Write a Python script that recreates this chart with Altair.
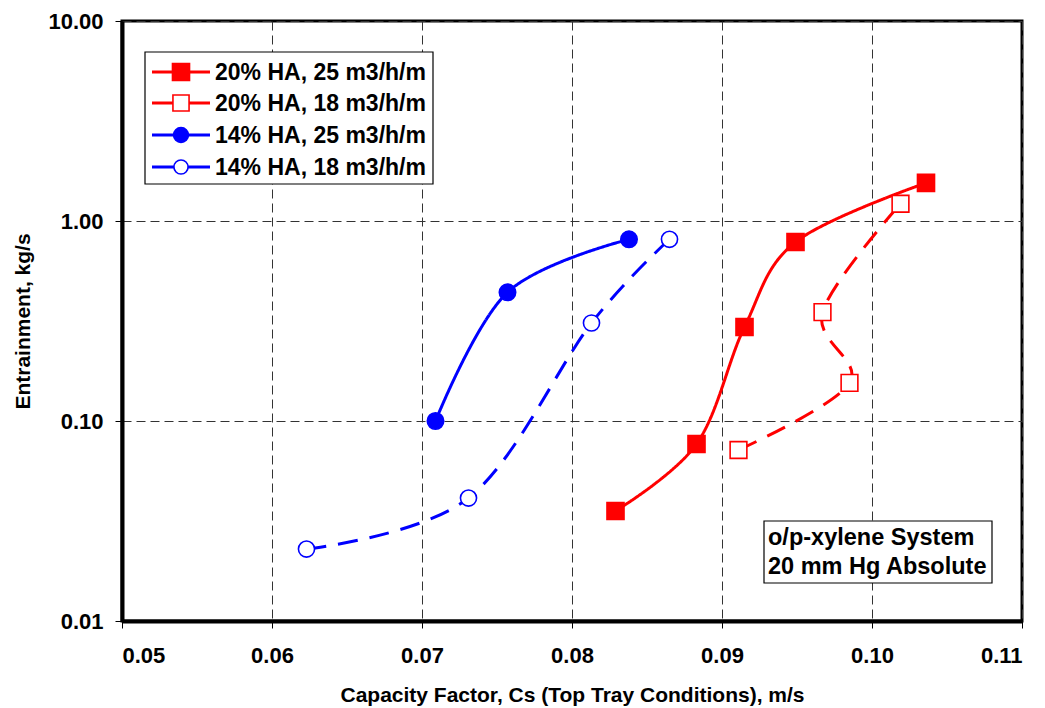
import altair as alt
import pandas as pd

# Series of the entrainment test runs
series_names = [
    "20% HA, 25 m3/h/m",
    "20% HA, 18 m3/h/m",
    "14% HA, 25 m3/h/m",
    "14% HA, 18 m3/h/m",
]

ha20_q25_cs = [0.0829, 0.0883, 0.0915, 0.0949, 0.1036]
ha20_q25_ent = [0.0355, 0.0767, 0.295, 0.785, 1.55]

ha20_q18_cs = [0.0911, 0.0985, 0.0967, 0.1019]
ha20_q18_ent = [0.0716, 0.155, 0.35, 1.22]

ha14_q25_cs = [0.0709, 0.0757, 0.0838]
ha14_q25_ent = [0.100, 0.44, 0.81]

ha14_q18_cs = [0.0623, 0.0731, 0.0813, 0.0865]
ha14_q18_ent = [0.0229, 0.0412, 0.309, 0.81]

x_ticks = [0.05, 0.06, 0.07, 0.08, 0.09, 0.10, 0.11]
y_ticks = [0.01, 0.1, 1, 10]

RED = "#FF0000"
BLUE = "#0000FF"
series_colors = [RED, RED, BLUE, BLUE]
series_fills = [RED, "white", BLUE, "white"]
series_shapes = ["square", "square", "circle", "circle"]
series_sizes = [290, 260, 220, 200]
series_dash = [[1, 0], [20, 12], [1, 0], [20, 12]]

rows = []
for name, xs, ys in zip(
    series_names,
    [ha20_q25_cs, ha20_q18_cs, ha14_q25_cs, ha14_q18_cs],
    [ha20_q25_ent, ha20_q18_ent, ha14_q25_ent, ha14_q18_ent],
):
    for i, (xv, yv) in enumerate(zip(xs, ys)):
        rows.append({"series": name, "cs": xv, "ent": yv, "idx": i})
df = pd.DataFrame(rows)

FONT = "Liberation Sans"
W, H = 900, 600

x_enc = alt.X(
    "cs:Q",
    scale=alt.Scale(domain=[0.05, 0.11], nice=False, zero=False),
    axis=alt.Axis(
        title="Capacity Factor, Cs (Top Tray Conditions), m/s",
        values=x_ticks,
        format=".2f",
        titleY=80,
        titleBaseline="alphabetic",
    ),
)
y_enc = alt.Y(
    "ent:Q",
    scale=alt.Scale(type="log", domain=[0.01, 10], nice=False),
    axis=alt.Axis(
        title="Entrainment, kg/s",
        values=y_ticks,
        format=".2f",
        titleX=-99,
        titleY=H / 2,
        titleBaseline="middle",
        labelPadding=12,
    ),
)

color_scale = alt.Scale(domain=series_names, range=series_colors)

lines = (
    alt.Chart(df)
    .mark_line(interpolate="cardinal", strokeWidth=3)
    .encode(
        x=x_enc,
        y=y_enc,
        color=alt.Color("series:N", scale=color_scale, legend=None),
        strokeDash=alt.StrokeDash(
            "series:N", scale=alt.Scale(domain=series_names, range=series_dash), legend=None
        ),
        order="idx:Q",
        detail="series:N",
    )
)

points = (
    alt.Chart(df)
    .mark_point(filled=True, opacity=1, strokeWidth=1.6)
    .encode(
        x="cs:Q",
        y="ent:Q",
        stroke=alt.Stroke("series:N", scale=color_scale, legend=None),
        fill=alt.Fill(
            "series:N", scale=alt.Scale(domain=series_names, range=series_fills), legend=None
        ),
        shape=alt.Shape(
            "series:N", scale=alt.Scale(domain=series_names, range=series_shapes), legend=None
        ),
        size=alt.Size(
            "series:N", scale=alt.Scale(domain=series_names, range=series_sizes), legend=None
        ),
    )
)

one = pd.DataFrame({"k": [0]})

# Legend box in the upper-left corner
legend_layers = [
    alt.Chart(one)
    .mark_rect(fill="white", stroke="black", strokeWidth=1.2)
    .encode(x=alt.value(23), x2=alt.value(311), y=alt.value(31), y2=alt.value(163))
]
row_y = [51, 82, 114, 146]
for name, col, fil, shp, sz, ry in zip(
    series_names, series_colors, series_fills, series_shapes, series_sizes, row_y
):
    legend_layers.append(
        alt.Chart(one)
        .mark_rule(color=col, strokeWidth=3)
        .encode(x=alt.value(30), x2=alt.value(88), y=alt.value(ry))
    )
    legend_layers.append(
        alt.Chart(one)
        .mark_point(filled=True, opacity=1, fill=fil, stroke=col, strokeWidth=1.6, shape=shp, size=sz)
        .encode(x=alt.value(59), y=alt.value(ry))
    )
    legend_layers.append(
        alt.Chart(one)
        .mark_text(align="left", baseline="middle", font=FONT, fontWeight="bold", fontSize=23, color="black")
        .encode(x=alt.value(93), y=alt.value(ry + 1), text=alt.value(name))
    )

# Annotation box with the system conditions
note_layers = [
    alt.Chart(one)
    .mark_rect(fill="white", stroke="black", strokeWidth=1.2)
    .encode(x=alt.value(642), x2=alt.value(870), y=alt.value(500), y2=alt.value(562)),
    alt.Chart(one)
    .mark_text(align="left", baseline="middle", font=FONT, fontWeight="bold", fontSize=23.5, color="black", lineHeight=29)
    .encode(x=alt.value(646), y=alt.value(517), text=alt.value(["o/p-xylene System", "20 mm Hg Absolute"])),
]

chart = (
    alt.layer(lines, points, *legend_layers, *note_layers)
    .properties(
        width=W,
        height=H,
        autosize=alt.AutoSizeParams(type="none"),
        padding={"left": 122, "top": 21, "right": 23, "bottom": 87},
        background="white",
    )
    .configure_view(stroke="black", strokeWidth=3)
    .configure_axis(
        labelFont=FONT,
        titleFont=FONT,
        labelFontWeight="bold",
        titleFontWeight="bold",
        labelFontSize=22,
        titleFontSize=21,
        labelColor="black",
        titleColor="black",
        domainColor="black",
        domainWidth=4,
        tickColor="black",
        tickSize=7,
        tickWidth=1,
        grid=True,
        gridColor="#333333",
        gridDash=[9, 5],
        gridWidth=1,
        gridOpacity=1,
    )
    .configure_axisX(labelPadding=17)
)

chart.save("out.html", embed_options={"renderer": "svg", "actions": False})
